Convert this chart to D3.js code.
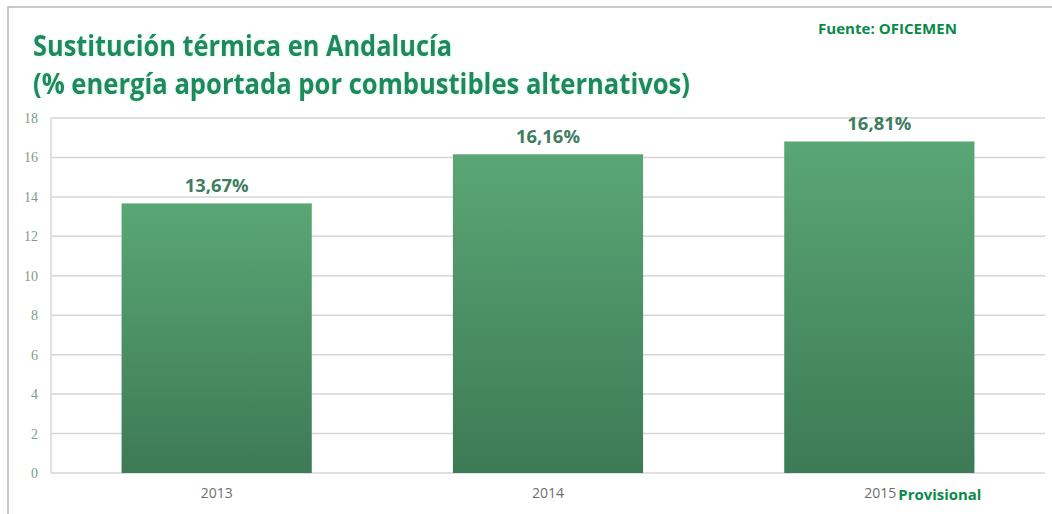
<!DOCTYPE html>
<html><head><meta charset="utf-8">
<script src="https://cdn.jsdelivr.net/npm/d3@7/dist/d3.min.js"></script>
<style>body{margin:0;background:#fff}svg{display:block}</style>
</head><body>
<svg id="c" width="1052" height="514"></svg>
<script>
const categories = ["2013", "2014", "2015"];
const values = [13.67, 16.16, 16.81];
const valueLabels = ["13,67%", "16,16%", "16,81%"];
const yTicks = [0, 2, 4, 6, 8, 10, 12, 14, 16, 18];
const titleLines = ["Sustitución térmica en Andalucía", "(% energía aportada por combustibles alternativos)"];
const sourceText = "Fuente: OFICEMEN";
const provisionalText = "Provisional";

const svg = d3.select("#c");
const W = 1052, H = 514;
const m = {left: 51, right: 1045, top: 118, bottom: 473};

// frame
svg.append("rect").attr("x", 8).attr("y", 7).attr("width", W + 10).attr("height", H + 10)
  .attr("fill", "#fff").attr("stroke", "#b8b8b8").attr("stroke-width", 1.5);

const defs = svg.append("defs");
const g = defs.append("linearGradient").attr("id", "bg").attr("x1", 0).attr("y1", 0).attr("x2", 0).attr("y2", 1);
g.append("stop").attr("offset", "0%").attr("stop-color", "#5aa675");
g.append("stop").attr("offset", "100%").attr("stop-color", "#3d7a56");
const glow = defs.append("filter").attr("id", "glow").attr("x", "-5%").attr("y", "-30%").attr("width", "110%").attr("height", "160%");
glow.append("feGaussianBlur").attr("in", "SourceAlpha").attr("stdDeviation", 1.5).attr("result", "b");
glow.append("feFlood").attr("flood-color", "#9fe0c8").attr("flood-opacity", 0.6);
glow.append("feComposite").attr("in2", "b").attr("operator", "in").attr("result", "s");
const mg = glow.append("feMerge");
mg.append("feMergeNode").attr("in", "s");
mg.append("feMergeNode").attr("in", "SourceGraphic");

const x = d3.scaleBand().domain(categories).range([m.left, m.right]).paddingInner(0.426).paddingOuter(0.213);
const y = d3.scaleLinear().domain([0, 18]).range([m.bottom, m.top]);

// gridlines
svg.append("g").selectAll("line").data(yTicks).join("line")
  .attr("x1", m.left).attr("x2", m.right)
  .attr("y1", d => y(d)).attr("y2", d => y(d))
  .attr("stroke", "#d6d6d6").attr("stroke-width", 1.5);
svg.append("line").attr("x1", m.left).attr("x2", m.left).attr("y1", m.top).attr("y2", m.bottom)
  .attr("stroke", "#d6d6d6").attr("stroke-width", 1.5);

// y axis labels
const yAxis = d3.axisLeft(y).tickValues(yTicks).tickSize(0).tickPadding(0);
const ya = svg.append("g").attr("transform", `translate(38,0)`).call(yAxis);
ya.select(".domain").remove();
ya.selectAll("text").attr("fill", "#7f9a8e").attr("font-family", "Liberation Serif, serif").attr("font-size", 14);

// bars
svg.append("g").selectAll("rect").data(values).join("rect")
  .attr("x", (d, i) => x(categories[i])).attr("width", x.bandwidth())
  .attr("y", d => y(d)).attr("height", d => y(0) - y(d))
  .attr("fill", "url(#bg)");

// value labels
svg.append("g").selectAll("text").data(values).join("text")
  .attr("x", (d, i) => x(categories[i]) + x.bandwidth() / 2)
  .attr("y", d => y(d) - 11)
  .attr("text-anchor", "middle")
  .attr("font-family", "Open Sans, sans-serif").attr("font-weight", "bold").attr("font-size", 17)
  .attr("fill", "#3f7d62")
  .attr("textLength", 64).attr("lengthAdjust", "spacingAndGlyphs")
  .text((d, i) => valueLabels[i]);

// x labels
const xAxis = d3.axisBottom(x).tickSize(0).tickPadding(0);
const xa = svg.append("g").attr("transform", `translate(0,${m.bottom + 15})`).call(xAxis);
xa.select(".domain").remove();
xa.selectAll("text").attr("fill", "#6e6e6e").attr("font-family", "Open Sans, sans-serif").attr("font-size", 14)
  .attr("dy", "0.71em");
xa.selectAll(".tick").filter(d => d === "2015").select("text").attr("text-anchor", "end").attr("x", 17);
svg.append("text").attr("x", x("2015") + x.bandwidth() / 2 + 19).attr("y", m.bottom + 27)
  .attr("font-family", "Open Sans, sans-serif").attr("font-weight", "bold").attr("font-size", 15)
  .attr("fill", "#0a8a48").attr("textLength", 83).attr("lengthAdjust", "spacingAndGlyphs").text(provisionalText);

// titles
svg.append("text").attr("x", 33).attr("y", 56).attr("filter", "url(#glow)")
  .attr("font-family", "Open Sans, sans-serif").attr("font-weight", "bold").attr("font-size", 28)
  .attr("fill", "#1b8a5c").attr("textLength", 419).attr("lengthAdjust", "spacingAndGlyphs").text(titleLines[0]);
svg.append("text").attr("x", 33).attr("y", 94).attr("filter", "url(#glow)")
  .attr("font-family", "Open Sans, sans-serif").attr("font-weight", "bold").attr("font-size", 28)
  .attr("fill", "#1b8a5c").attr("textLength", 657).attr("lengthAdjust", "spacingAndGlyphs").text(titleLines[1]);

svg.append("text").attr("x", 818).attr("y", 34)
  .attr("font-family", "Open Sans, sans-serif").attr("font-weight", "bold").attr("font-size", 14)
  .attr("fill", "#0a8a48").attr("textLength", 139).attr("lengthAdjust", "spacingAndGlyphs").text(sourceText);
</script>
</body></html>
